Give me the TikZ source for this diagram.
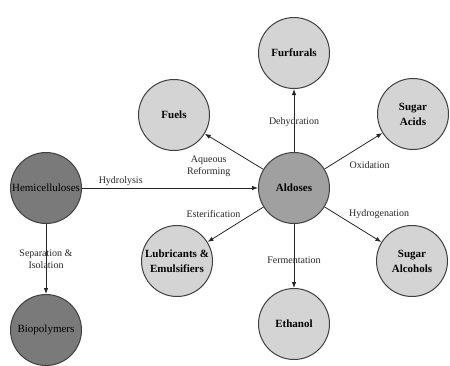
\documentclass[tikz,border=0pt]{standalone}
\usepackage{fontspec}
\setmainfont{Liberation Serif}
\usetikzlibrary{arrows.meta, positioning}
\definecolor{darkgrey}{RGB}{122, 122, 122}
\definecolor{midgrey}{RGB}{160, 160, 160}
\definecolor{lightgrey}{RGB}{212, 212, 212}
\definecolor{rimgrey}{RGB}{64, 64, 64}
\tikzset{
    basiccircle/.style={
        circle, draw=rimgrey, line width=1pt, minimum size=71pt,
        inner sep=0pt, align=center, font=\fontsize{11}{15}\selectfont
    },
    arrow/.style={-{Latex[length=6pt, width=4.5pt]}, line width=0.8pt, color=black!85},
    steplabel/.style={font=\fontsize{10}{12}\selectfont, align=center, inner sep=2pt},
}

\begin{document}
\begin{tikzpicture}[x=1pt, y=-1pt, node distance=63pt]
    \tikzstyle{sourcenode}=[basiccircle, fill=darkgrey]
    \tikzstyle{hubnode}=[basiccircle, fill=midgrey, font=\fontsize{11}{15}\selectfont\bfseries]
    \tikzstyle{productnode}=[basiccircle, fill=lightgrey, font=\fontsize{11}{15}\selectfont\bfseries]

    \useasboundingbox (0,0) rectangle (450,365);

    % Feedstock
    \node[sourcenode] (hemi) at (46,188) {Hemicelluloses};
    \node[sourcenode, below=70pt of hemi] (biopoly) {Biopolymers};

    % Sugar platform
    \node[hubnode, right=176pt of hemi] (aldoses) {Aldoses};

    % Products
    \node[productnode, above=of aldoses] (furfurals) {Furfurals};
    \node[productnode, below=64pt of aldoses] (ethanol) {Ethanol};
    \node[productnode] (fuels) at (174,115) {Fuels};
    \node[productnode] (acids) at (413,114) {Sugar\\Acids};
    \node[productnode] (lubricants) at (177,261) {Lubricants \&\\Emulsifiers};
    \node[productnode] (alcohols) at (412,261) {Sugar\\Alcohols};

    \draw[arrow] (hemi) -- node[steplabel, pos=.22, above] {Hydrolysis} (aldoses);
    \draw[arrow] (hemi) -- node[steplabel, pos=.5] {Separation \&\\Isolation} (biopoly);
    \draw[arrow] (aldoses) -- node[steplabel, pos=.48] {Dehydration} (furfurals);
    \draw[arrow] (aldoses) -- node[steplabel, pos=.57] {Fermentation} (ethanol);
    \draw[arrow] (aldoses) -- node[steplabel, pos=.52, anchor=north east, yshift=-3pt] {Aqueous\\Reforming} (fuels);
    \draw[arrow] (aldoses) -- node[steplabel, pos=.39, anchor=north west, yshift=-4pt] {Oxidation} (acids);
    \draw[arrow] (aldoses) -- node[steplabel, pos=.37, anchor=south east] {Esterification} (lubricants);
    \draw[arrow] (aldoses) -- node[steplabel, pos=.39, anchor=south west] {Hydrogenation} (alcohols);
\end{tikzpicture}
\end{document}
